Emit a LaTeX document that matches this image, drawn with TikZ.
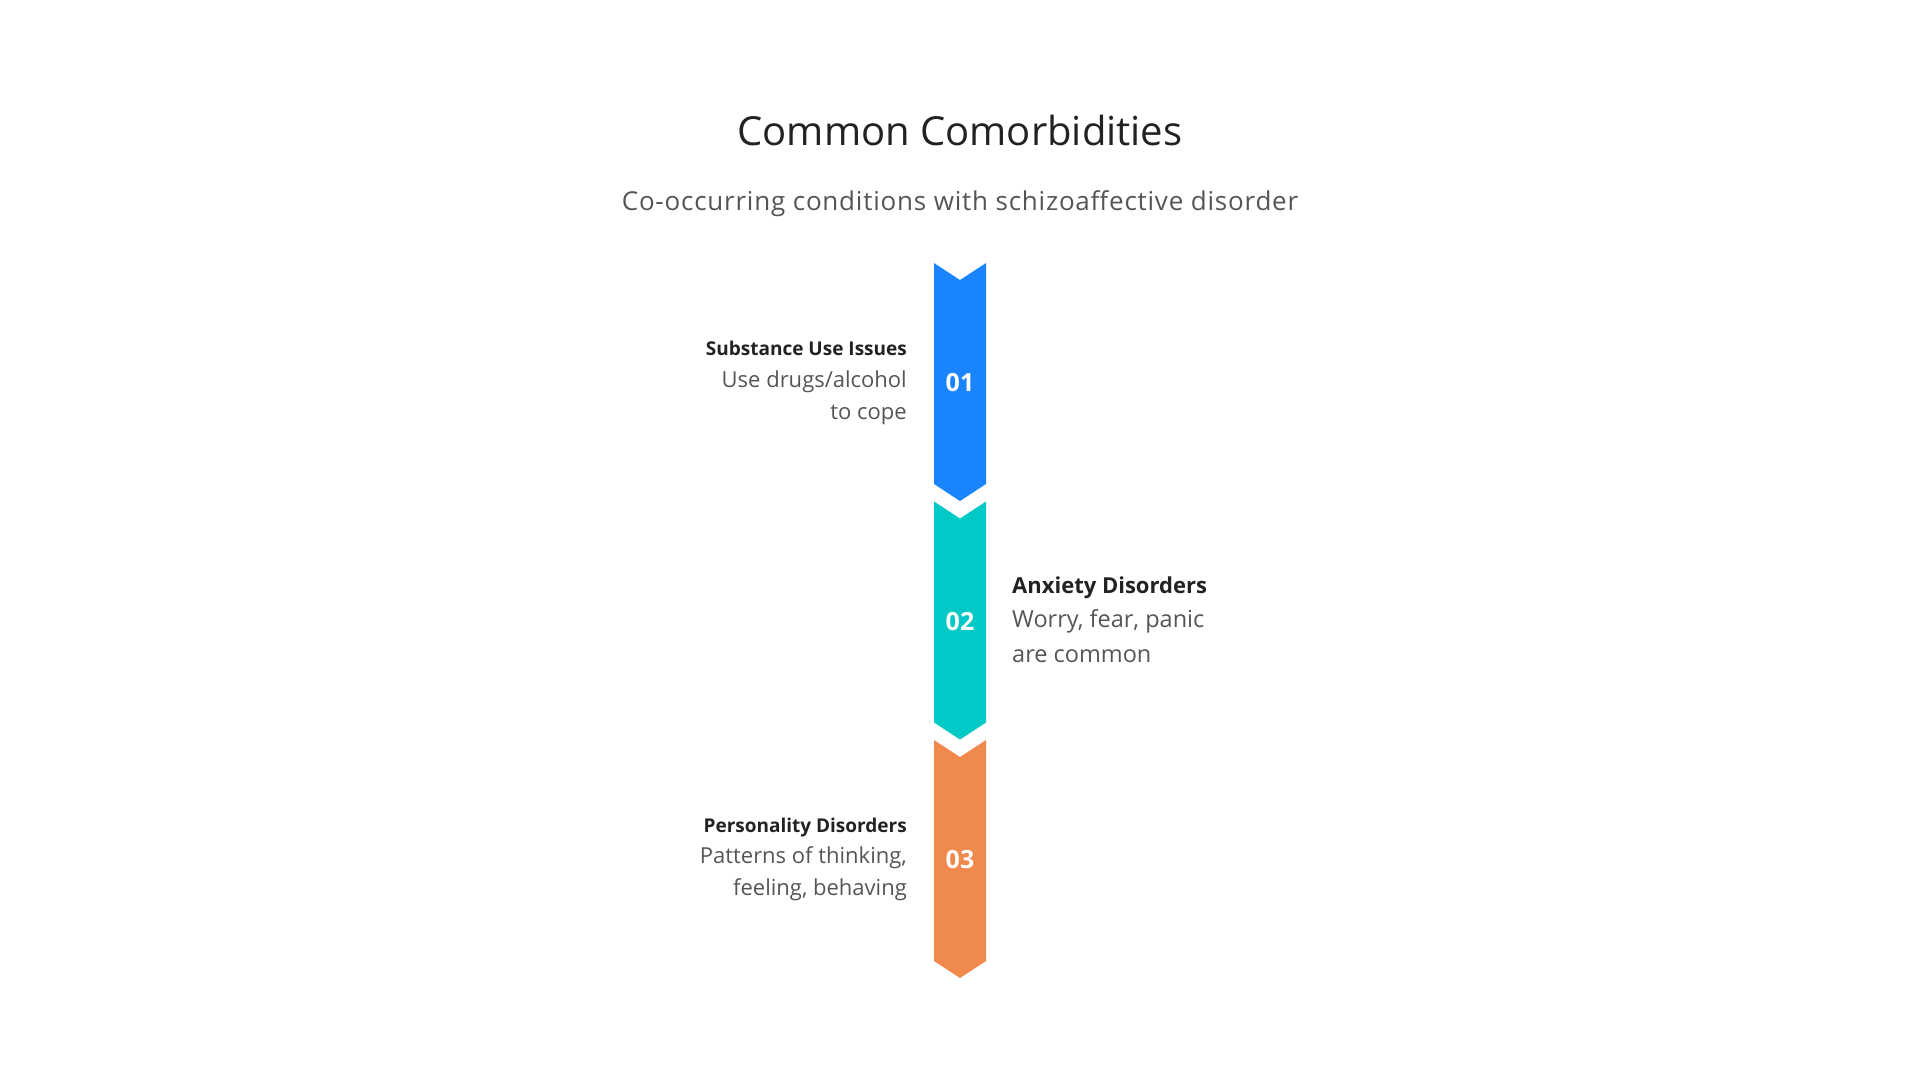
\documentclass[tikz,border=0pt]{standalone}
\usepackage{fontspec}
\setmainfont{Open Sans}
\usepackage{xcolor}
\usetikzlibrary{positioning}

\definecolor{stepblue}{HTML}{1A84FF}
\definecolor{stepteal}{HTML}{00C9C8}
\definecolor{steporange}{HTML}{F0894D}
\definecolor{titlegray}{HTML}{222222}
\definecolor{descgray}{HTML}{555555}

\begin{document}
\begin{tikzpicture}[x=1pt, y=-1pt,
    title/.style={text=titlegray, font=\fontsize{40}{48}\selectfont, inner sep=0pt, anchor=base},
    subtitle/.style={text=descgray, font=\fontsize{26}{30}\selectfont\addfontfeatures{LetterSpace=3}, inner sep=0pt, anchor=base},
    num/.style={text=white, font=\fontsize{25}{30}\selectfont\bfseries, inner sep=0pt},
    head/.style={text=titlegray, font=\fontsize{19}{24}\selectfont\bfseries, inner sep=0pt},
    desc/.style={text=descgray, font=\fontsize{22}{32}\selectfont, inner sep=0pt}]

    \useasboundingbox (0,0) rectangle (1920,1080);

    \node[title] (heading) at (960,145) {Common Comorbidities};
    \node[subtitle] (sub) at (960,210) {Co-occurring conditions with schizoaffective disorder};

    % chevrons
    \fill[stepblue] (934,263) -- (960,280) -- (986,263) -- (986,484) -- (960,501) -- (934,484) -- cycle;
    \fill[stepteal] (934,501.5) -- (960,518.5) -- (986,501.5) -- (986,722.5) -- (960,739.5) -- (934,722.5) -- cycle;
    \fill[steporange] (934,740) -- (960,757) -- (986,740) -- (986,961) -- (960,978) -- (934,961) -- cycle;

    \node[num] (one) at (960,383) {01};
    \node[num] (two) at (960,621.5) {02};
    \node[num] (three) at (960,860) {03};

    % left and right texts (base = last line)
    \node[head, anchor=base east] (subst) at (907,355) {Substance Use Issues};
    \node[desc, align=right, anchor=base east] (substtext) at (907,419) {Use drugs/alcohol\\to cope};

    \node[head, font=\fontsize{22}{26}\selectfont\bfseries, anchor=base west] (anx) at (1012,593) {Anxiety Disorders};
    \node[desc, align=left, font=\fontsize{23.5}{35}\selectfont, anchor=base west] (anxtext) at (1012,662) {Worry, fear, panic\\are common};

    \node[head, anchor=base east] (pers) at (907,832) {Personality Disorders};
    \node[desc, align=right, anchor=base east] (perstext) at (907,895) {Patterns of thinking,\\feeling, behaving};
\end{tikzpicture}
\end{document}
